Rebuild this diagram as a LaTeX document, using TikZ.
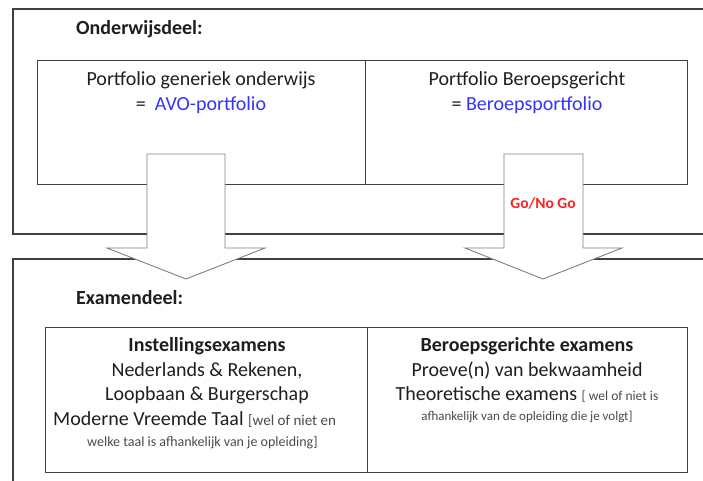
\documentclass[tikz,border=0pt]{standalone}
\usepackage{fontspec}
\setmainfont{Carlito}
\definecolor{linegray}{HTML}{404040}
\definecolor{arrowgray}{HTML}{808080}
\definecolor{txt}{HTML}{1E1E1E}
\definecolor{blu}{HTML}{3333FF}
\definecolor{redt}{HTML}{FF2020}
\definecolor{smallt}{HTML}{4A4A4A}
\newcommand{\bracketfont}{\fontsize{15}{17}\selectfont\color{smallt}}
\newcommand{\bracketfontr}{\fontsize{13.5}{16}\selectfont\color{smallt}}
\begin{document}
\begin{tikzpicture}[x=1pt,y=-1pt,
  frame/.style={draw=linegray,line width=1.2pt},
  box/.style={draw=linegray,line width=1.2pt,anchor=north west,inner sep=0pt},
  bigarrow/.style={draw=arrowgray,fill=white,line width=0.9pt,line join=miter},
  heading/.style={anchor=base west,inner sep=0pt,text=txt,font=\fontsize{20}{24}\selectfont\bfseries},
  line/.style={anchor=base,inner sep=0pt,text=txt,font=\fontsize{20}{24}\selectfont},
  boldline/.style={line,font=\fontsize{20}{24}\selectfont\bfseries},
  smallline/.style={anchor=base,inner sep=0pt,text=smallt,font=\fontsize{13}{15}\selectfont},
  gonogo/.style={inner sep=0pt,text=redt,font=\fontsize{15.5}{18}\selectfont\bfseries}]
\useasboundingbox (0,0) rectangle (703,480);
% outer frames (running off the page)
\begin{scope}
  \clip (0,0) rectangle (703,480);
  \draw[frame] (13,9) rectangle (730,234);
  \draw[frame] (13,259) rectangle (730,520);
\end{scope}
% upper part
\node[heading] (ondt) at (76,34) {Onderwijsdeel:};
\node[box,minimum width=328pt,minimum height=124pt] (avo) at (37,60) {};
\node[box,minimum width=322pt,minimum height=124pt] (ber) at (365,60) {};
\node[line] (avo1) at (201,85) {Portfolio generiek onderwijs};
\node[line] (avo2) at (201,110) {=\ \ \textcolor{blu}{AVO-portfolio}};
\node[line] (ber1) at (527,85) {Portfolio Beroepsgericht};
\node[line] (ber2) at (527,110) {= \textcolor{blu}{Beroepsportfolio}};
% lower part
\node[heading] (exat) at (76,304) {Examendeel:};
\node[box,minimum width=322pt,minimum height=145pt] (inst) at (45,327) {};
\node[box,minimum width=320pt,minimum height=145pt] (bexa) at (367,327) {};
\node[boldline] (i1) at (207,351) {Instellingsexamens};
\node[line] (i2) at (207,376) {Nederlands \& Rekenen,};
\node[line] (i3) at (207,400) {Loopbaan \& Burgerschap};
\node[line,anchor=base west] (i4) at (53,425) {Moderne Vreemde Taal {\bracketfont[wel of niet en}};
\node[smallline,anchor=base west,font=\fontsize{14}{16}\selectfont] (i5) at (87,446) {welke taal is afhankelijk van je opleiding]};
\node[boldline] (b1) at (527,351) {Beroepsgerichte examens};
\node[line] (b2) at (527,376) {Proeve(n) van bekwaamheid};
\node[line] (b3) at (527,400) {Theoretische examens {\bracketfontr[ wel of niet is}};
\node[smallline] (b4) at (527,420) {afhankelijk van de opleiding die je volgt]};
% block arrows from the upper boxes into the lower part
\coordinate (la) at (186,279);
\coordinate (ra) at (543,279);
\draw[bigarrow] (147,154) -- (225,154) -- (225,248) -- (265,248) -- (la) -- (107,248) -- (147,248) -- cycle;
\draw[bigarrow] (504,154) -- (583,154) -- (583,248) -- (622,248) -- (ra) -- (465,248) -- (504,248) -- cycle;
\node[gonogo] (go) at (543,203) {Go/No Go};
\end{tikzpicture}
\end{document}
